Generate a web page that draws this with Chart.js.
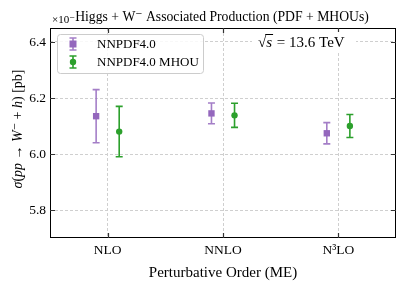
<!DOCTYPE html>
<html lang="en">
<head>
    <meta charset="UTF-8">
    <title>Higgs + W- Associated Production</title>
    <script src="https://cdn.jsdelivr.net/npm/chart.js"></script>
    <style>
        html, body { margin: 0; padding: 0; background: #fff; }
        #chart { width: 407px; height: 285px; }
    </style>
</head>
<body>
    <div id="chart"><canvas id="canv" width="407" height="285"></canvas></div>
    <script>
        // values
        const ordenes = ['NLO', 'NNLO', 'N\u00B3LO']
        const nnpdf = [6.135, 6.145, 6.074]
        const nnpdfErr = [0.095, 0.037, 0.038]
        const mhou = [6.080, 6.138, 6.100]
        const mhouErr = [0.090, 0.043, 0.041]
        const yTicks = [5.8, 6.0, 6.2, 6.4]

        const morado = '#9467bd'
        const verde = '#2ca02c'
        const fuente = "'Liberation Serif', 'DejaVu Serif', serif"

        const puntos = (vals, errs, shift) => vals.map((v, i) => ({ x: i + shift, y: v, err: errs[i] }))

        // error bars drawn through the scales, before the markers
        const barrasError = {
            id: 'barrasError',
            beforeDatasetsDraw(chart) {
                const ctx = chart.ctx
                const xs = chart.scales.x
                const ys = chart.scales.y
                chart.data.datasets.forEach(ds => {
                    ctx.save()
                    ctx.strokeStyle = ds.errorColor
                    ctx.lineWidth = 1.6
                    ds.data.forEach(p => {
                        const px = xs.getPixelForValue(p.x)
                        const top = ys.getPixelForValue(p.y + p.err)
                        const bot = ys.getPixelForValue(p.y - p.err)
                        ctx.beginPath()
                        ctx.moveTo(px, top); ctx.lineTo(px, bot)
                        ctx.moveTo(px - 3.5, top); ctx.lineTo(px + 3.5, top)
                        ctx.moveTo(px - 3.5, bot); ctx.lineTo(px + 3.5, bot)
                        ctx.stroke()
                    })
                    ctx.restore()
                })
            }
        }

        // draws a run of [text, italic] pieces centred on x,y
        function textoMixto(ctx, piezas, x, y, size) {
            let ancho = 0
            piezas.forEach(([t, it]) => {
                ctx.font = (it ? 'italic ' : '') + size + 'px ' + fuente
                ancho += ctx.measureText(t).width
            })
            let cx = x - ancho / 2
            piezas.forEach(([t, it]) => {
                ctx.font = (it ? 'italic ' : '') + size + 'px ' + fuente
                ctx.fillText(t, cx, y)
                cx += ctx.measureText(t).width
            })
        }

        // frame, inward ticks, titles, legend and energy label
        const decorado = {
            id: 'decorado',
            afterDraw(chart) {
                const ctx = chart.ctx
                const a = chart.chartArea
                const xs = chart.scales.x
                const ys = chart.scales.y
                ctx.save()
                ctx.strokeStyle = '#000'
                ctx.lineWidth = 1
                ctx.strokeRect(a.left + 0.5, a.top + 0.5, a.right - a.left - 1, a.bottom - a.top - 1)

                ctx.strokeStyle = '#333'
                ctx.lineWidth = 1.2
                ctx.beginPath()
                yTicks.forEach(t => {
                    const py = Math.round(ys.getPixelForValue(t)) + 0.5
                    ctx.moveTo(a.left, py); ctx.lineTo(a.left + 5, py)
                    ctx.moveTo(a.right, py); ctx.lineTo(a.right - 5, py)
                })
                ordenes.forEach((o, i) => {
                    const px = Math.round(xs.getPixelForValue(i)) + 0.5
                    ctx.moveTo(px, a.bottom); ctx.lineTo(px, a.bottom - 5)
                    ctx.moveTo(px, a.top); ctx.lineTo(px, a.top + 5)
                })
                ctx.stroke()

                // title + offset text
                ctx.fillStyle = '#000'
                ctx.textBaseline = 'alphabetic'
                ctx.font = '11px ' + fuente
                ctx.textAlign = 'left'
                ctx.fillText('\u00D710\u207B', a.left + 2, 23)
                ctx.font = '13.7px ' + fuente
                ctx.textAlign = 'center'
                ctx.fillText('Higgs + W\u207B Associated Production (PDF + MHOUs)', (a.left + a.right) / 2 - 1, 21)

                // y axis label, rotated
                ctx.save()
                ctx.translate(18, (a.top + a.bottom) / 2 - 4)
                ctx.rotate(-Math.PI / 2)
                ctx.textAlign = 'left'
                ctx.textBaseline = 'middle'
                textoMixto(ctx, [['\u03C3', true], ['(', false], ['pp', true], [' \u2192 ', false], ['W', true],
                    ['\u207B', false], [' + ', false], ['h', true], [') [pb]', false]], 0, 0, 14)
                ctx.restore()

                // sqrt(s) label with white background
                const py64 = ys.getPixelForValue(6.4)
                ctx.fillStyle = '#fff'
                ctx.fillRect(252, py64 - 10, 104, 20)
                ctx.fillStyle = '#000'
                ctx.textAlign = 'left'
                ctx.textBaseline = 'middle'
                ctx.font = '15px ' + fuente
                ctx.fillText('\u221A', 258, py64 + 1)
                const wr = ctx.measureText('\u221A').width
                ctx.font = 'italic 15px ' + fuente
                ctx.fillText('s', 258 + wr, py64 + 1)
                const ws = ctx.measureText('s').width
                ctx.fillRect(258 + wr - 1, py64 - 8, ws + 2, 1)
                ctx.font = '15px ' + fuente
                ctx.fillText(' = 13.6 TeV', 258 + wr + ws + 1, py64 + 1)

                // legend
                const lx = a.left + 7, ly = a.top + 6, lw = 146, lh = 39
                ctx.fillStyle = 'rgba(255,255,255,0.85)'
                ctx.strokeStyle = '#cccccc'
                ctx.lineWidth = 1
                ctx.beginPath()
                ctx.roundRect(lx + 0.5, ly + 0.5, lw, lh, 3)
                ctx.fill(); ctx.stroke()
                chart.data.datasets.forEach((ds, k) => {
                    const cy = ly + 10 + k * 18
                    const cx = lx + 16
                    ctx.strokeStyle = ds.errorColor
                    ctx.lineWidth = 1.6
                    ctx.beginPath()
                    ctx.moveTo(cx, cy - 6); ctx.lineTo(cx, cy + 6)
                    ctx.moveTo(cx - 3.5, cy - 6); ctx.lineTo(cx + 3.5, cy - 6)
                    ctx.moveTo(cx - 3.5, cy + 6); ctx.lineTo(cx + 3.5, cy + 6)
                    ctx.stroke()
                    ctx.fillStyle = ds.backgroundColor
                    ctx.beginPath()
                    if (ds.pointStyle === 'rect') ctx.rect(cx - 3.5, cy - 3.5, 7, 7)
                    else ctx.arc(cx, cy, 3.2, 0, Math.PI * 2)
                    ctx.fill()
                    ctx.fillStyle = '#000'
                    ctx.font = '13px ' + fuente
                    ctx.textAlign = 'left'
                    ctx.textBaseline = 'middle'
                    ctx.fillText(ds.label, lx + 40, cy + 1)
                })
                ctx.restore()
            }
        }

        const data = {
            datasets: [{
                label: 'NNPDF4.0',
                data: puntos(nnpdf, nnpdfErr, -0.1),
                backgroundColor: morado,
                borderColor: morado,
                errorColor: 'rgba(148,103,189,0.85)',
                pointStyle: 'rect',
                pointRadius: 4.5,
                borderWidth: 0,
            }, {
                label: 'NNPDF4.0 MHOU',
                data: puntos(mhou, mhouErr, 0.1),
                backgroundColor: verde,
                borderColor: verde,
                errorColor: verde,
                pointStyle: 'circle',
                pointRadius: 3.2,
                borderWidth: 0,
            }]
        }

        const config = {
            type: 'scatter',
            data: data,
            options: {
                responsive: false,
                animation: false,
                layout: { padding: { top: 28, right: 11, left: 0, bottom: 0 } },
                plugins: { legend: { display: false }, tooltip: { enabled: false } },
                scales: {
                    x: {
                        type: 'linear',
                        min: -0.5, max: 2.5,
                        afterBuildTicks: s => { s.ticks = ordenes.map((o, i) => ({ value: i })) },
                        afterFit: s => { s.height = 47 },
                        ticks: {
                            callback: v => ordenes[v],
                            color: '#000',
                            padding: 4,
                            font: { family: fuente, size: 13.5 },
                            maxRotation: 0,
                        },
                        grid: { color: '#cfcfcf', drawTicks: false, lineWidth: 1 },
                        border: { display: false, dash: [3, 2] },
                        title: {
                            display: true,
                            text: 'Perturbative Order (ME)',
                            color: '#000',
                            font: { family: fuente, size: 15 },
                            padding: { top: 0, bottom: 3 },
                        },
                    },
                    y: {
                        min: 5.7, max: 6.45,
                        afterBuildTicks: s => { s.ticks = yTicks.map(v => ({ value: v })) },
                        afterFit: s => { s.width = 50 },
                        ticks: {
                            callback: v => v.toFixed(1),
                            color: '#000',
                            padding: 4,
                            font: { family: fuente, size: 13.5 },
                        },
                        grid: { color: '#cfcfcf', drawTicks: false, lineWidth: 1 },
                        border: { display: false, dash: [3, 2] },
                    },
                },
            },
            plugins: [barrasError, decorado],
        }

        const chart = new Chart(document.getElementById('canv').getContext('2d'), config)
    </script>
</body>
</html>
